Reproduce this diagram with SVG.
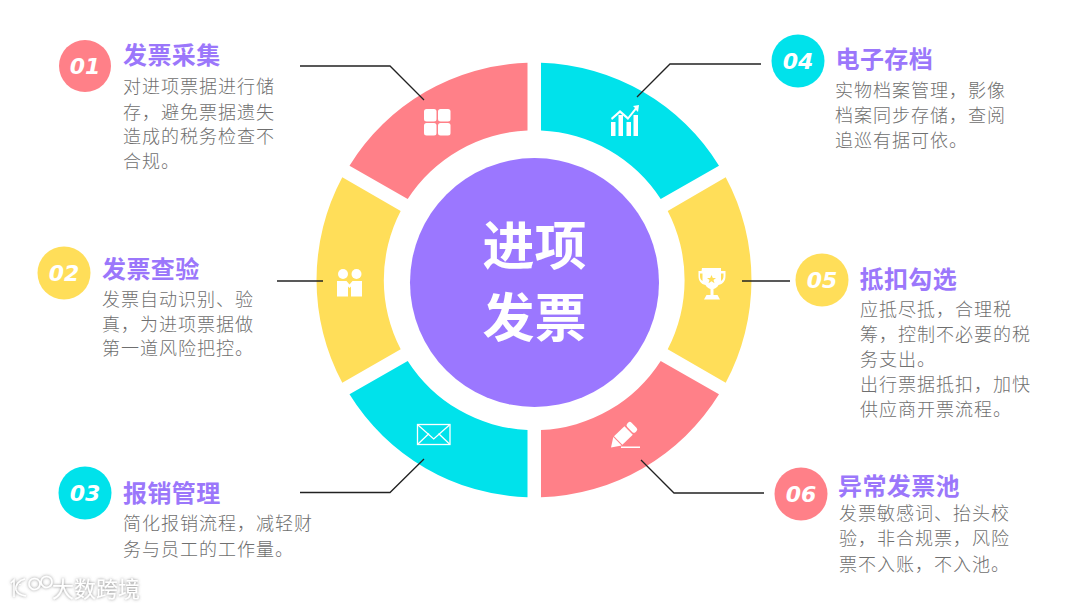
<svg xmlns="http://www.w3.org/2000/svg" width="1080" height="608" viewBox="0 0 1080 608">
<style>
text{font-family:"Noto Sans CJK SC","Noto Sans",sans-serif}
.t{font-size:24px;font-weight:700;fill:#9b77fb;letter-spacing:.4px}
.b{font-size:18px;font-weight:300;fill:#6f6f6f;letter-spacing:1px}
.n{font-family:"DejaVu Sans",sans-serif;font-size:22px;font-weight:700;font-style:italic;fill:#fff;text-anchor:middle}
.c{font-size:52px;font-weight:700;fill:#fff;text-anchor:middle}
.l{fill:none;stroke:#222;stroke-width:1.3}
.ic{fill:#fff}
.is{fill:none;stroke:#fff}
.pk{fill:#ff8088}.yl{fill:#ffde59}.cy{fill:#00e2eb}
</style>
<defs>
<filter id="sh" x="-20%" y="-40%" width="140%" height="180%"><feDropShadow dx="0" dy="0" stdDeviation="1.5" flood-color="#777" flood-opacity="0.9"/></filter>
</defs>
<rect width="1080" height="608" fill="#fff"/>
<g id="center"><circle cx="534.5" cy="282.500" r="124.500" fill="#9b77ff"/>
<text class="c" x="534.5" y="265">进项</text><text class="c" x="534.5" y="337">发票</text></g>

<g id="node1">
<path class="pk" d="M527.500 62.700A217.500 217.500 0 0 0 349.500 165.700L407.700 199A150 150 0 0 1 527.500 130.500Z"/>
<g class="ic"><rect x="424" y="109" width="12.500" height="12.500" rx="2.500"/><rect x="438" y="109" width="12.500" height="12.500" rx="2.500"/><rect x="424" y="123" width="12.500" height="12.500" rx="2.500"/><rect x="438" y="123" width="12.500" height="12.500" rx="2.500"/></g>
<circle class="pk" cx="85" cy="66" r="26"/><text class="n" x="85" y="74">01</text>
<text class="t" x="123" y="64">发票采集</text>
<text class="b"><tspan x="123" y="93">对进项票据进行储</tspan><tspan x="123" y="119">存，避免票据遗失</tspan><tspan x="123" y="143">造成的税务检查不</tspan><tspan x="123" y="168">合规。</tspan></text>
</g>
<g id="node2">
<path class="yl" d="M342.300 177.300A217.500 217.500 0 0 0 342.300 382.700L400.700 349.300A150 150 0 0 1 400.700 211Z"/>
<g class="ic"><circle cx="343" cy="274" r="5"/><circle cx="356.500" cy="274" r="5"/><path d="M337 281h9.500l3 3.500 3-3.500h9.500v15.500h-11v-10l-1.500 1.500-1.500-1.500v10h-11z"/></g>
<circle class="yl" cx="64" cy="273" r="26.500"/><text class="n" x="64" y="281">02</text>
<text class="t" x="102" y="278">发票查验</text>
<text class="b"><tspan x="102" y="306">发票自动识别、验</tspan><tspan x="102" y="331">真，为进项票据做</tspan><tspan x="102" y="355">第一道风险把控。</tspan></text>
</g>
<g id="node3">
<path class="cy" d="M349.500 394.300A217.500 217.500 0 0 0 527.500 497.300V430A150 150 0 0 1 407.700 361Z"/>
<g class="is" stroke-width="1.300"><rect x="417.500" y="424.500" width="32.500" height="20"/><path d="M418 425l15.700 14 15.700-14M418 444l11-10.500M449.500 444l-11-10.500"/></g>
<circle class="cy" cx="85" cy="493" r="26.500"/><text class="n" x="85" y="501">03</text>
<text class="t" x="123" y="502">报销管理</text>
<text class="b"><tspan x="123" y="530">简化报销流程，减轻财</tspan><tspan x="123" y="556">务与员工的工作量。</tspan></text>
</g>
<g id="node4">
<path class="cy" d="M541 62.700A217.500 217.500 0 0 1 719 165.700L660.700 199A150 150 0 0 0 541 130.500Z"/>
<g class="ic"><rect x="611" y="122" width="4.500" height="14"/><rect x="618.500" y="115" width="4.500" height="21"/><rect x="626.500" y="122" width="4.500" height="14"/><rect x="633.500" y="115" width="4.500" height="21"/><path d="M611 118l9-8 8 7 7-9-2-2 6-1-1 7-2-2-8 10-8-7-8 7z"/></g>
<circle class="cy" cx="798" cy="61" r="26.500"/><text class="n" x="798" y="69">04</text>
<text class="t" x="835.500" y="68">电子存档</text>
<text class="b"><tspan x="835" y="97">实物档案管理，影像</tspan><tspan x="835" y="122">档案同步存储，查阅</tspan><tspan x="835" y="147">追巡有据可依。</tspan></text>
</g>
<g id="node5">
<path class="yl" d="M725.700 177.300A217.500 217.500 0 0 1 725.700 382.700L667.700 349.300A150 150 0 0 0 667.700 211Z"/>
<path class="ic" fill-rule="evenodd" d="M702 268h19v3h4.500v5c0 5-2.500 8-7 9-1 2-3 3.500-5 4v6h4l2.500 4.500h-16l2.500-4.500h4v-6c-2-.5-4-2-5-4-4.500-1-7-4-7-9v-5h3zM700 273.500v2.500c0 2 .7 4 2.500 5v-7.500zM723.500 273.500h-2.500v7.500c1.800-1 2.500-3 2.500-5z"/>
<path class="yl" d="M711.500 275l1.300 3h3.200l-2.500 2 1 3.300-3-2-3 2 1-3.300-2.500-2h3.200z"/>
<circle class="yl" cx="822" cy="280" r="26.500"/><text class="n" x="822" y="288">05</text>
<text class="t" x="859.500" y="288">抵扣勾选</text>
<text class="b"><tspan x="860" y="316">应抵尽抵，合理税</tspan><tspan x="860" y="341">筹，控制不必要的税</tspan><tspan x="860" y="366">务支出。</tspan><tspan x="860" y="391">出行票据抵扣，加快</tspan><tspan x="860" y="416">供应商开票流程。</tspan></text>
</g>
<g id="node6">
<path class="pk" d="M719 394.300A217.500 217.500 0 0 1 541 497.300V430A150 150 0 0 0 660.700 361Z"/>
<g class="ic"><g transform="translate(611 447.500) rotate(-44)"><path d="M0 0L9 -6V6Z"/><rect x="10" y="-6" width="14.500" height="12"/><rect x="26" y="-6" width="6" height="12" rx="2.500"/></g><rect x="621" y="446.500" width="19" height="1.500"/></g>
<circle class="pk" cx="801" cy="494" r="26.500"/><text class="n" x="801" y="502">06</text>
<text class="t" x="838" y="495">异常发票池</text>
<text class="b"><tspan x="839" y="520">发票敏感词、抬头校</tspan><tspan x="839" y="545">验，非合规票，风险</tspan><tspan x="839" y="571">票不入账，不入池。</tspan></text>
</g>
<g id="connectors">
<path class="l" d="M300 66H390L424 100"/>
<path class="l" d="M277 281H323"/>
<path class="l" d="M300 492.500H390L424 459"/>
<path class="l" d="M761 64H670L637 97"/>
<path class="l" d="M742 281H790"/>
<path class="l" d="M764 493H674L641 460"/>
</g>
<g id="watermark" filter="url(#sh)">
<path d="M11 583l3-3v17M25 579c-6 1-10 6-9 11 1 3 4 5 10 6M20 585v-1M29 584a5.500 5.500 0 1 0 0-.1M41 582a5.500 5.500 0 1 0 0-.1" fill="none" stroke="#fff" stroke-width="1.500"/>
<text x="52" y="597" font-size="22" fill="#fff" font-weight="400">大数跨境</text>
</g>
</svg>
